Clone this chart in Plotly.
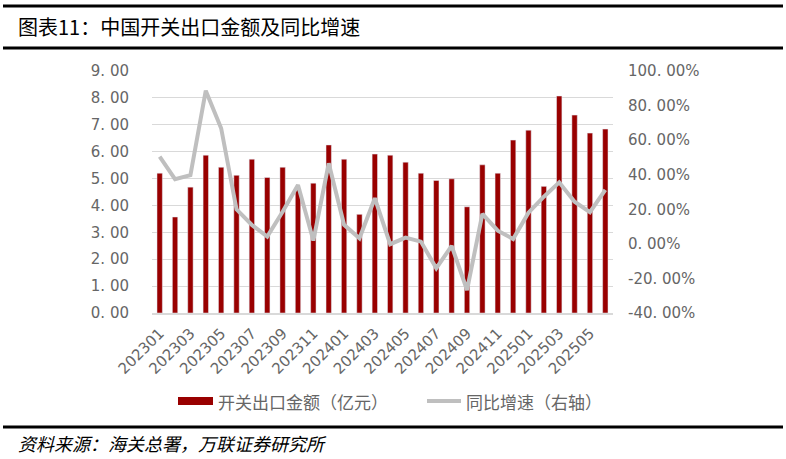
import plotly.graph_objects as go

months = ["202301","202302","202303","202304","202305","202306","202307","202308","202309","202310",
          "202311","202312","202401","202402","202403","202404","202405","202406","202407","202408",
          "202409","202410","202411","202412","202501","202502","202503","202504","202505","202506"]
export_value = [5.20, 3.57, 4.68, 5.87, 5.42, 5.12, 5.72, 5.04, 5.42, 4.60,
                4.83, 6.25, 5.72, 3.67, 5.91, 5.87, 5.61, 5.20, 4.93, 4.99,
                3.95, 5.51, 5.20, 6.43, 6.80, 4.71, 8.07, 7.36, 6.69, 6.84]
yoy_pct = [50.4, 37.4, 39.8, 88.6, 66.9, 20.0, 10.9, 4.2, 18.6, 34.1,
           1.9, 46.6, 11.0, 3.2, 26.4, -0.2, 3.6, 1.3, -14.1, -1.2,
           -26.7, 17.3, 7.6, 2.8, 18.0, 27.3, 35.6, 24.4, 18.3, 31.2]

x_tick_labels = months[::2]
left_ticks = [0, 1, 2, 3, 4, 5, 6, 7, 8, 9]
left_tick_text = ["0. 00", "1. 00", "2. 00", "3. 00", "4. 00", "5. 00", "6. 00", "7. 00", "8. 00", "9. 00"]
right_ticks = [-40, -20, 0, 20, 40, 60, 80, 100]
right_tick_text = ["-40. 00%", "-20. 00%", "0. 00%", "20. 00%", "40. 00%", "60. 00%", "80. 00%", "100. 00%"]

title_text = "图表11：中国开关出口金额及同比增速"
source_text = "资料来源：海关总署，万联证券研究所"
bar_name = "开关出口金额（亿元）"
line_name = "同比增速（右轴）"

BAR_COLOR = "#990000"
LINE_COLOR = "#BFBFBF"
TICK_COLOR = "#666666"
FONT = "Noto Sans CJK SC"
NUM_FONT = "DejaVu Sans, Noto Sans CJK SC"

W, H = 786, 459
L, R, T, B = 152, 173, 71, 146
PW, PH = W - L - R, H - T - B

def px(X):
    return (X - L) / PW

def py(Y):
    return (H - B - Y) / PH

fig = go.Figure()
fig.add_trace(go.Bar(x=months, y=export_value, name=bar_name, marker_color=BAR_COLOR,
                     yaxis="y", showlegend=False))
fig.add_trace(go.Scatter(x=months, y=yoy_pct, name=line_name, mode="lines",
                         line=dict(color=LINE_COLOR, width=4), yaxis="y2", showlegend=False))

tick_font = dict(size=15, color=TICK_COLOR, family=NUM_FONT)
fig.update_layout(
    width=W, height=H,
    margin=dict(l=L, r=R, t=T, b=B),
    paper_bgcolor="white", plot_bgcolor="white",
    bargap=0.65,
    font=dict(family=FONT, color=TICK_COLOR, size=15),
    xaxis=dict(type="category", tickmode="array", tickvals=x_tick_labels, ticktext=x_tick_labels,
               tickangle=-45, showgrid=False, showline=True, linecolor="#D9D9D9", linewidth=1.5,
               ticks="", tickfont=tick_font, ticklabelstandoff=4),
    yaxis=dict(range=[0, 9], tickmode="array", tickvals=left_ticks, ticktext=left_tick_text,
               showgrid=True, gridcolor="#D9D9D9", gridwidth=1.2, zeroline=False, showline=False,
               ticks="", ticklabelstandoff=22, tickfont=tick_font),
    yaxis2=dict(range=[-40, 100], overlaying="y", side="right", tickmode="array",
                tickvals=right_ticks, ticktext=right_tick_text, showgrid=False, zeroline=False,
                showline=False, ticks="", ticklabelstandoff=14, tickfont=tick_font),
)

shapes = []
for Y, wdt in [(6, 3), (48, 3), (427, 3)]:
    shapes.append(dict(type="line", xref="paper", yref="paper", x0=px(3), x1=px(783),
                       y0=py(Y), y1=py(Y), line=dict(color="black", width=wdt)))
# legend swatches
shapes.append(dict(type="rect", xref="paper", yref="paper", x0=px(178), x1=px(213),
                   y0=py(405), y1=py(397), fillcolor=BAR_COLOR, line=dict(width=0)))
shapes.append(dict(type="line", xref="paper", yref="paper", x0=px(427), x1=px(461),
                   y0=py(401), y1=py(401), line=dict(color=LINE_COLOR, width=4)))
fig.update_layout(shapes=shapes)

annotations = [
    dict(text=title_text, xref="paper", yref="paper", x=px(16), y=py(26), xanchor="left",
         yanchor="middle", showarrow=False, font=dict(size=20, color="black", family=FONT)),
    dict(text="<i>" + source_text + "</i>", xref="paper", yref="paper", x=px(16), y=py(443),
         xanchor="left", yanchor="middle", showarrow=False,
         font=dict(size=18, color="black", family=FONT)),
    dict(text=bar_name, xref="paper", yref="paper", x=px(216), y=py(401), xanchor="left",
         yanchor="middle", showarrow=False, font=dict(size=17, color=TICK_COLOR, family=FONT)),
    dict(text=line_name, xref="paper", yref="paper", x=px(464), y=py(401), xanchor="left",
         yanchor="middle", showarrow=False, font=dict(size=17, color=TICK_COLOR, family=FONT)),
]
fig.update_layout(annotations=annotations)

fig.write_html("out.html", config={"displayModeBar": False},
               post_script="document.body.style.margin='0';document.body.style.padding='0';")
